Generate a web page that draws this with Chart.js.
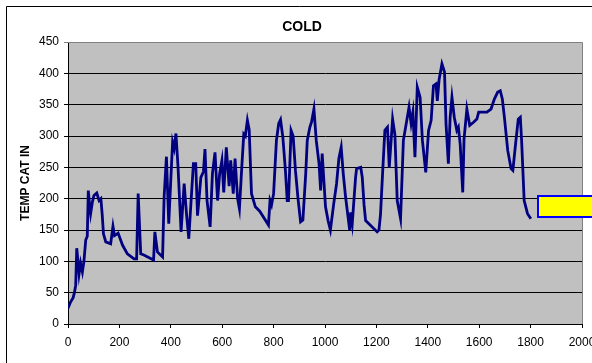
<!DOCTYPE html>
<html>
<head>
<meta charset="utf-8">
<script src="https://cdn.jsdelivr.net/npm/chart.js@4/dist/chart.umd.min.js"></script>
<style>
  body { margin: 0; background: #fff; overflow: hidden; }
  canvas { display: block; }
</style>
</head>
<body>
<canvas id="coldChart" width="592" height="363"></canvas>
<script>
// Time axis (x) and temperature values
const timeValues = [
  0, 10, 20, 25, 30, 34, 40, 43, 49, 56, 62, 69, 75, 79, 84, 88, 95, 101, 112, 121,
  128, 133, 138, 147, 166, 175, 181, 195, 212, 231, 257, 267, 273, 283, 295, 333, 338, 348, 368, 374,
  383, 392, 400, 407, 413, 420, 428, 440, 452, 461, 470, 479, 488, 497, 504, 510, 517, 527, 533, 541,
  553, 562, 572, 582, 590, 599, 606, 616, 627, 633, 643, 650, 660, 667, 677, 684, 690, 698, 705, 714,
  729, 746, 780, 786, 792, 800, 811, 820, 827, 836, 846, 853, 858, 868, 876, 885, 895, 905, 914, 925,
  931, 941, 948, 957, 966, 977, 983, 989, 1002, 1012, 1021, 1034, 1045, 1054, 1063, 1071, 1080, 1090, 1096, 1100,
  1106, 1113, 1119, 1123, 1139, 1145, 1152, 1158, 1203, 1210, 1216, 1224, 1233, 1243, 1250, 1263, 1272, 1281, 1294, 1305,
  1315, 1327, 1335, 1342, 1350, 1359, 1370, 1379, 1392, 1403, 1413, 1422, 1432, 1437, 1444, 1455, 1465, 1471, 1480, 1487,
  1494, 1503, 1513, 1519, 1526, 1536, 1541, 1552, 1563, 1578, 1591, 1598, 1614, 1630, 1646, 1659, 1672, 1682, 1690, 1698,
  1711, 1724, 1731, 1743, 1752, 1760, 1765, 1775, 1788, 1801
];
const tempCatIn = [
  25, 35, 42, 50, 62, 121, 95, 80, 97, 83, 100, 134, 140, 213, 190, 176, 195, 205, 209, 197,
  200, 175, 144, 131, 128, 156, 141, 145, 126, 112, 104, 104, 208, 112, 110, 102, 147, 115, 107, 203,
  267, 160, 230, 290, 280, 304, 252, 147, 224, 176, 136, 197, 256, 256, 173, 200, 234, 243, 279, 197,
  155, 240, 274, 197, 240, 261, 210, 282, 220, 261, 208, 264, 200, 184, 256, 303, 300, 325, 310, 208,
  187, 180, 158, 197, 190, 208, 293, 320, 326, 298, 245, 197, 197, 309, 300, 245, 200, 163, 166, 240,
  293, 314, 323, 343, 293, 255, 213, 272, 187, 165, 150, 192, 224, 264, 282, 240, 203, 170, 150, 178,
  160, 200, 234, 248, 250, 234, 190, 165, 147, 150, 175, 240, 309, 314, 250, 327, 302, 197, 168, 293,
  317, 346, 320, 338, 266, 378, 362, 293, 242, 309, 325, 380, 383, 356, 390, 415, 402, 319, 256, 330,
  362, 330, 309, 314, 287, 210, 295, 343, 317, 322, 327, 338, 338, 338, 343, 359, 370, 372, 359, 330,
  277, 248, 245, 293, 327, 330, 293, 197, 176, 168
];
const yTicksMax = 450;
const xTicksMax = 2000;

const points = timeValues.map((t, i) => ({ x: t, y: tempCatIn[i] }));

// grey plot area, its border, the outer chart frame and the cut-off legend box
const excelLook = {
  id: "excelLook",
  beforeDraw(chart) {
    const { ctx, chartArea: a } = chart;
    ctx.save();
    ctx.fillStyle = "#fff";
    ctx.fillRect(0, 0, chart.width, chart.height);
    ctx.fillStyle = "#c0c0c0";
    ctx.fillRect(a.left, a.top, a.right - a.left, a.bottom - a.top);
    ctx.restore();
  },
  afterDraw(chart) {
    const { ctx, chartArea: a } = chart;
    ctx.save();
    ctx.strokeStyle = "#808080";
    ctx.lineWidth = 1;
    ctx.beginPath();
    ctx.moveTo(a.left, a.top + 0.5);
    ctx.lineTo(a.right + 0.5, a.top + 0.5);
    ctx.lineTo(a.right + 0.5, a.bottom);
    ctx.stroke();

    ctx.strokeStyle = "#000";
    ctx.beginPath();
    ctx.moveTo(6.5, chart.height);
    ctx.lineTo(6.5, 6.5);
    ctx.lineTo(chart.width, 6.5);
    ctx.stroke();

    ctx.fillStyle = "#ffff00";
    ctx.fillRect(537, 195, 60, 23);
    ctx.strokeStyle = "#0000ff";
    ctx.lineWidth = 2;
    ctx.strokeRect(538, 196, 60, 21);
    ctx.restore();
  }
};

new Chart(document.getElementById("coldChart"), {
  type: "line",
  data: {
    datasets: [{
      label: "TEMP CAT IN",
      data: points,
      borderColor: "#000080",
      borderWidth: 2.8,
      pointRadius: 0,
      tension: 0,
      fill: false
    }]
  },
  options: {
    responsive: false,
    animation: false,
    layout: { padding: { left: 22, right: 10, top: 0, bottom: 0 } },
    plugins: {
      legend: { display: false },
      tooltip: { enabled: false },
      title: {
        display: true,
        text: "COLD",
        color: "#000",
        font: { family: "'Liberation Sans', Arial, sans-serif", size: 14, weight: "bold" },
        padding: { top: 18.6, bottom: 6.6 }
      }
    },
    scales: {
      x: {
        type: "linear",
        min: 0,
        max: xTicksMax,
        ticks: {
          stepSize: 200,
          color: "#000",
          padding: 7,
          maxRotation: 0,
          callback: (v) => String(v),
          font: { family: "'Liberation Sans', Arial, sans-serif", size: 12 }
        },
        grid: { drawOnChartArea: false, drawTicks: true, tickLength: 4, color: "#000" },
        border: { color: "#000" },
        afterFit(scale) {
          scale.height = 39;
          scale.paddingRight = 0;
          scale.paddingLeft = 0;
        }
      },
      y: {
        min: 0,
        max: yTicksMax,
        ticks: {
          stepSize: 50,
          color: "#000",
          padding: 5,
          font: { family: "'Liberation Sans', Arial, sans-serif", size: 12 }
        },
        grid: {
          color: (c) => (c.tick && c.tick.value === yTicksMax ? "#808080" : "#000"),
          tickLength: 4
        },
        border: { color: "#000" },
        title: {
          display: true,
          text: "TEMP CAT IN",
          color: "#000",
          padding: { top: -4, bottom: 0 },
          font: { family: "'Liberation Sans', Arial, sans-serif", size: 12, weight: "bold" }
        },
        afterFit(scale) {
          scale.width = 46;
        }
      }
    }
  },
  plugins: [excelLook]
});
</script>
</body>
</html>
